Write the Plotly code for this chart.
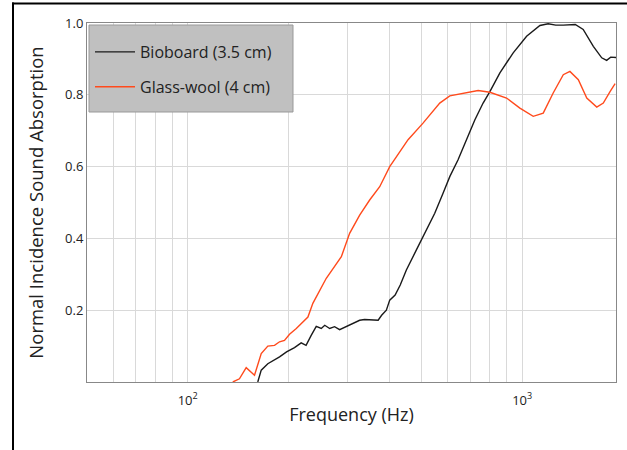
import plotly.graph_objects as go

# Bioboard (3.5 cm)
bio_freq = [162, 165.9, 173.6, 181.8, 188.2, 197.5, 208.6, 218.4, 225.9, 234, 242.3, 250.8,
            256.9, 265.8, 274.9, 284.6, 298, 312, 326.7, 338, 354, 371, 380, 392.6, 401.8,
            417, 432, 450.6, 482.8, 511.1, 547.8, 580, 607.5, 643.2, 681.6, 721.7, 764.2,
            800.6, 857.8, 940, 1031, 1130, 1196, 1260, 1327, 1441, 1522, 1632, 1729, 1789,
            1839, 1908]
bio_abs = [0.0, 0.033, 0.051, 0.061, 0.070, 0.084, 0.096, 0.109, 0.102, 0.130, 0.155, 0.149,
           0.158, 0.149, 0.154, 0.146, 0.154, 0.163, 0.172, 0.174, 0.174, 0.172, 0.186, 0.200,
           0.228, 0.242, 0.270, 0.312, 0.368, 0.414, 0.470, 0.526, 0.572, 0.619, 0.675, 0.730,
           0.777, 0.809, 0.861, 0.917, 0.963, 0.993, 0.998, 0.994, 0.994, 0.996, 0.982, 0.935,
           0.903, 0.896, 0.905, 0.904]

# Glass-wool (4 cm)
gw_freq = [136.4, 142.8, 149.6, 158.4, 165.9, 173.6, 181.8, 188.2, 194.7, 201.6, 211.2, 221,
           228.8, 236.7, 248, 259.6, 272, 288, 304.9, 326.7, 350, 375, 401.8, 425.6, 455.9,
           505.3, 541.4, 567, 607.5, 681.6, 738.5, 800.6, 898, 984.3, 1079, 1156, 1238, 1327,
           1389, 1472, 1560, 1671, 1748, 1831, 1896]
gw_abs = [0.0, 0.009, 0.040, 0.019, 0.079, 0.100, 0.102, 0.112, 0.116, 0.133, 0.149, 0.167,
          0.181, 0.219, 0.256, 0.289, 0.316, 0.349, 0.414, 0.465, 0.507, 0.544, 0.600, 0.633,
          0.675, 0.721, 0.756, 0.777, 0.797, 0.807, 0.812, 0.807, 0.791, 0.763, 0.740, 0.749,
          0.805, 0.856, 0.865, 0.842, 0.791, 0.766, 0.777, 0.809, 0.831]

x_major = [100, 1000]
x_major_text = ["10<sup>2</sup>", "10<sup>3</sup>"]
x_minor = [60, 70, 80, 90, 200, 300, 400, 500, 600, 700, 800, 900]
y_ticks = [0.2, 0.4, 0.6, 0.8, 1.0]
y_text = ["0.2", "0.4", "0.6", "0.8", "1.0"]

FONT = "Open Sans"

fig = go.Figure()
fig.add_trace(go.Scatter(x=bio_freq, y=bio_abs, mode="lines", name="Bioboard (3.5 cm)",
                         line=dict(color="#1a1a1a", width=1.4), legendgroup="a"))
fig.add_trace(go.Scatter(x=gw_freq, y=gw_abs, mode="lines", name="Glass-wool (4 cm)",
                         line=dict(color="#ff4a1c", width=1.4), legendgroup="b"))

W, H = 627, 450
L, R, T, B = 87, 11, 23, 68
pw, ph = W - L - R, H - T - B

def px(x):  # page x -> paper
    return (x - L) / pw

def py(y):  # page y -> paper
    return (H - B - y) / ph

shapes = [
    dict(type="rect", xref="paper", yref="paper", x0=px(89), x1=px(293), y0=py(112), y1=py(25),
         fillcolor="#c0c0c0", line=dict(color="#999999", width=1), layer="above"),
    dict(type="line", xref="paper", yref="paper", x0=px(12), x1=px(640), y0=py(3.5), y1=py(3.5),
         line=dict(color="black", width=2), layer="above"),
    dict(type="line", xref="paper", yref="paper", x0=px(13), x1=px(13), y0=py(2.5), y1=py(460),
         line=dict(color="black", width=2), layer="above"),
]

fig.update_layout(
    width=W, height=H,
    margin=dict(l=L, r=R, t=T, b=B, autoexpand=False),
    paper_bgcolor="white", plot_bgcolor="white",
    font=dict(family=FONT, color="#222222"),
    shapes=shapes,
    showlegend=True,
    legend=dict(x=px(90), y=py(35), xanchor="left", yanchor="top",
                bgcolor="rgba(0,0,0,0)", borderwidth=0,
                font=dict(size=16, family=FONT, color="#222222"),
                itemwidth=40, tracegroupgap=11),
    xaxis=dict(type="log", range=[1.69897, 3.2805],
               tickmode="array", tickvals=x_major, ticktext=x_major_text,
               showgrid=True, gridcolor="#d9d9d9", gridwidth=1,
               minor=dict(tickmode="array", tickvals=x_minor, showgrid=True,
                          gridcolor="#d9d9d9", gridwidth=1, ticks=""),
               showline=True, linecolor="#888888", linewidth=1, mirror=True,
               ticks="", tickfont=dict(size=13), ticklabelstandoff=6,
               title=dict(text="Frequency (Hz)", font=dict(size=18), standoff=0),
               zeroline=False),
    yaxis=dict(range=[0, 1.0],
               tickmode="array", tickvals=y_ticks, ticktext=y_text,
               showgrid=True, gridcolor="#d9d9d9", gridwidth=1,
               showline=True, linecolor="#888888", linewidth=1, mirror=True,
               ticks="", tickfont=dict(size=13),
               title=dict(text="Normal Incidence Sound Absorption", font=dict(size=18.5), standoff=16),
               zeroline=False),
)

fig.write_html("out.html", config={"displayModeBar": False},
               post_script="document.body.style.margin='0';document.body.style.overflow='hidden';")
